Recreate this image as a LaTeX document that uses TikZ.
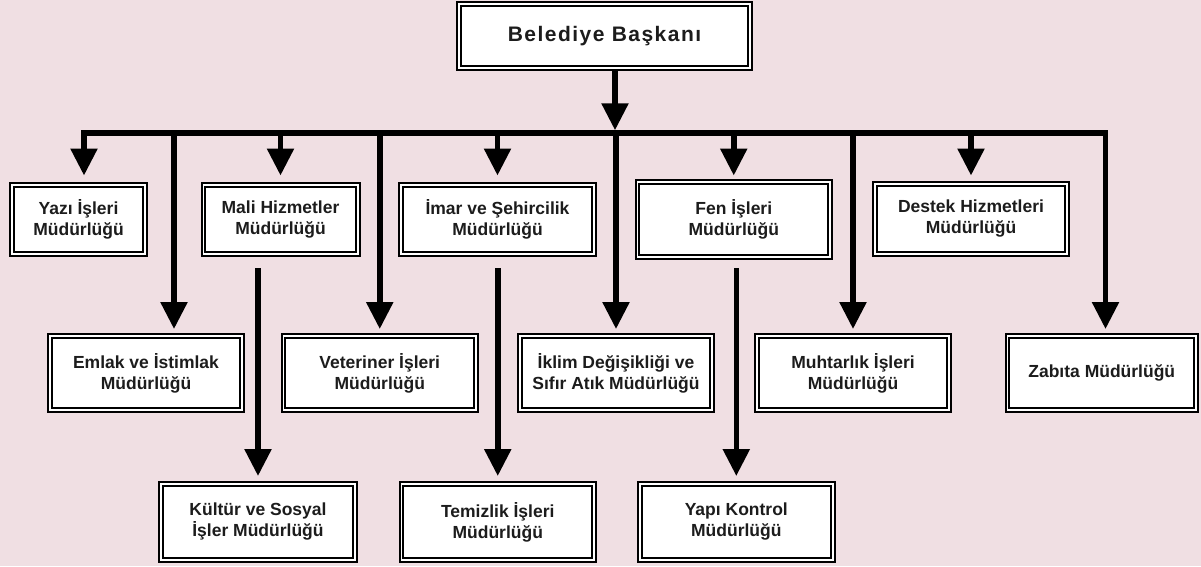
\documentclass[tikz,border=0pt]{standalone}
\usepackage{fontspec}
\setmainfont{Liberation Sans}
\usetikzlibrary{arrows.meta}
\definecolor{bg}{RGB}{240,223,227}
\definecolor{ink}{RGB}{28,28,28}
\begin{document}
\begin{tikzpicture}[x=1pt,y=-1pt,
  box/.style={draw=black, line width=2pt, double=white, double distance=1.7pt,
    fill=white, inner sep=0pt, outer sep=2.85pt, align=center, text=ink,
    font=\fontsize{17.5}{21}\selectfont\bfseries,
    append after command={\pgfextra{\draw[black, line width=0.8pt]
      ([shift={(6.1pt,-6.1pt)}]\tikzlastnode.north west) rectangle
      ([shift={(-6.1pt,6.1pt)}]\tikzlastnode.south east);}}},
  wh/.style 2 args={minimum width={#1-5.7}, minimum height={#2-5.7}},
  tip/.tip={Triangle[width=26pt,length=27pt]},
  conn/.style={draw=black, line width=5.5pt, -tip},
  bus/.style={draw=black, line width=5.5pt, tip-tip}
]
\useasboundingbox (0,0) rectangle (1201,566);
\fill[bg] (0,0) rectangle (1201,566);

% nodes
\node[box, wh={297}{70}, font=\fontsize{21}{25}\selectfont\bfseries\addfontfeatures{LetterSpace=7}] (top) at (604.5,36) {Belediye Başkanı};

\node[box, wh={139}{75}] (yazi) at (78.5,219.5) {Yazı İşleri\\Müdürlüğü};
\node[box, wh={160}{75}] (mali) at (280.5,219.5) {Mali Hizmetler\\Müdürlüğü};
\node[box, wh={199}{75}] (imar) at (497.5,219.5) {İmar ve Şehircilik\\Müdürlüğü};
\node[box, wh={198.5}{81}] (fen) at (733.75,219.5) {Fen İşleri\\Müdürlüğü};
\node[box, wh={198}{76}] (destek) at (971,219) {Destek Hizmetleri\\Müdürlüğü};

\node[box, wh={198}{80}] (emlak) at (146,373) {Emlak ve İstimlak\\Müdürlüğü};
\node[box, wh={198.5}{80}] (veteriner) at (379.75,373) {Veteriner İşleri\\Müdürlüğü};
\node[box, wh={198}{80}] (iklim) at (616,373) {İklim Değişikliği ve\\Sıfır Atık Müdürlüğü};
\node[box, wh={198}{80}] (muhtarlik) at (853,373) {Muhtarlık İşleri\\Müdürlüğü};
\node[box, wh={194.5}{80}] (zabita) at (1101.75,373) {Zabıta Müdürlüğü};

\node[box, wh={200}{82}] (kultur) at (258,522) {Kültür ve Sosyal\\İşler Müdürlüğü};
\node[box, wh={198.5}{82}] (temizlik) at (497.75,522) {Temizlik İşleri\\Müdürlüğü};
\node[box, wh={198.6}{82}] (yapi) at (736.3,522) {Yapı Kontrol\\Müdürlüğü};

% bus
\coordinate (bar) at (615,133);
\coordinate (yz) at ([xshift=5.5pt]yazi.north);
\coordinate (zb) at ([xshift=3.75pt]zabita.north);
\coordinate (em) at ([xshift=28pt]emlak.north);

\draw[conn, shorten >=2.75pt] (top.south -| bar) -- (bar);
\draw[bus, shorten <=6.5pt, shorten >=4pt] (yz) |- (bar) -| (zb);

\draw[conn, shorten >=6.5pt] (mali.north |- bar) -- (mali.north);
\draw[conn, shorten >=6.5pt] (imar.north |- bar) -- (imar.north);
\draw[conn, shorten >=3.5pt] (fen.north |- bar) -- (fen.north);
\draw[conn, shorten >=5.5pt] (destek.north |- bar) -- (destek.north);

\draw[conn, shorten >=4pt] (em |- bar) -- (em);
\draw[conn, shorten >=4pt] (veteriner.north |- bar) -- (veteriner.north);
\draw[conn, shorten >=4pt] (iklim.north |- bar) -- (iklim.north);
\draw[conn, shorten >=4pt] (muhtarlik.north |- bar) -- (muhtarlik.north);

\draw[conn, shorten <=11pt, shorten >=5pt] (kultur.north |- mali.south) -- (kultur.north);
\draw[conn, shorten <=11pt, shorten >=5pt] (temizlik.north |- imar.south) -- (temizlik.north);
\draw[conn, shorten <=8pt, shorten >=5pt] (yapi.north |- fen.south) -- (yapi.north);
\end{tikzpicture}
\end{document}
